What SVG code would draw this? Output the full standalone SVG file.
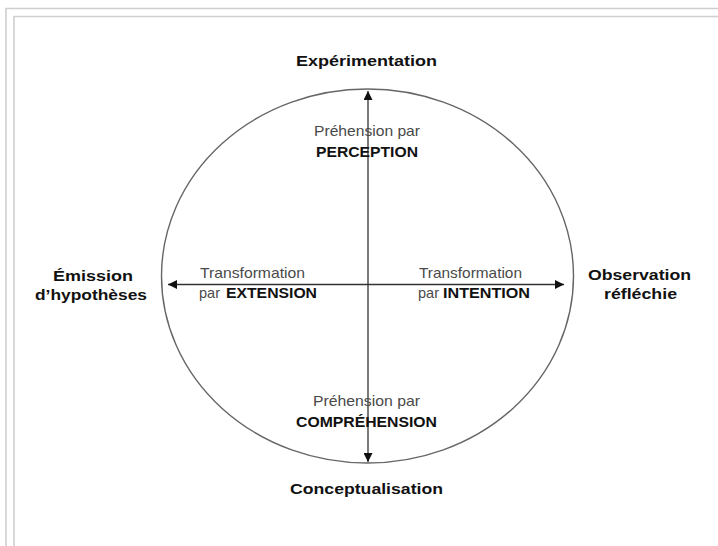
<svg xmlns="http://www.w3.org/2000/svg" width="718" height="546" viewBox="0 0 718 546">
<defs>
<style>
.frame{stroke:#cfcfcf;stroke-width:1.6;fill:none}
.b{font-family:"Liberation Sans",Arial,sans-serif;font-weight:bold;font-size:15px;fill:#111}
.r{font-family:"Liberation Sans",Arial,sans-serif;font-size:14.5px;fill:#4a4a4a}
.ax{stroke:#333;stroke-width:1.3;fill:none}
</style>
<marker id="ah" viewBox="0 0 10 10" refX="10" refY="5" markerWidth="9" markerHeight="9" markerUnits="userSpaceOnUse" orient="auto-start-reverse">
<path d="M0,0 L10,5 L0,10 z" fill="#111"/>
</marker>
</defs>
<rect width="718" height="546" fill="#fff"/>
<g id="frame">
<path class="frame" d="M6,546 V8.5 H718"/>
<path class="frame" d="M14,546 V16.5 H718"/>
</g>
<g id="cycle">
<ellipse cx="367.5" cy="276" rx="206" ry="187" fill="none" stroke="#666" stroke-width="1.4"/>
</g>
<g id="connectors">
<line class="ax" x1="368" y1="91" x2="368" y2="462" marker-start="url(#ah)" marker-end="url(#ah)"/>
<line class="ax" x1="168" y1="284.5" x2="564" y2="284.5" marker-start="url(#ah)" marker-end="url(#ah)"/>
</g>
<g id="experimentation"><text class="b" x="296" y="66" textLength="141" lengthAdjust="spacingAndGlyphs">Expérimentation</text></g>
<g id="perception">
<text class="r" x="314" y="136" textLength="106" lengthAdjust="spacingAndGlyphs">Préhension par</text>
<text class="b" x="316" y="157" textLength="102" lengthAdjust="spacingAndGlyphs">PERCEPTION</text>
</g>
<g id="emission">
<text class="b" x="53" y="281" textLength="80" lengthAdjust="spacingAndGlyphs">Émission</text>
<text class="b" x="35" y="300" textLength="112" lengthAdjust="spacingAndGlyphs">d’hypothèses</text>
</g>
<g id="extension">
<text class="r" x="200" y="278" textLength="105" lengthAdjust="spacingAndGlyphs">Transformation</text>
<text class="r" x="199" y="298" textLength="21" lengthAdjust="spacingAndGlyphs">par</text>
<text class="b" x="226" y="298" textLength="91" lengthAdjust="spacingAndGlyphs" style="font-size:14.5px">EXTENSION</text>
</g>
<g id="intention">
<text class="r" x="419" y="278" textLength="103" lengthAdjust="spacingAndGlyphs">Transformation</text>
<text class="r" x="418" y="298" textLength="21" lengthAdjust="spacingAndGlyphs">par</text>
<text class="b" x="443" y="298" textLength="87" lengthAdjust="spacingAndGlyphs" style="font-size:14.5px">INTENTION</text>
</g>
<g id="observation">
<text class="b" x="588" y="280" textLength="103" lengthAdjust="spacingAndGlyphs">Observation</text>
<text class="b" x="604" y="299" textLength="73" lengthAdjust="spacingAndGlyphs">réfléchie</text>
</g>
<g id="comprehension">
<text class="r" x="313" y="406" textLength="107" lengthAdjust="spacingAndGlyphs">Préhension par</text>
<text class="b" x="296" y="427" textLength="141" lengthAdjust="spacingAndGlyphs">COMPRÉHENSION</text>
</g>
<g id="conceptualisation"><text class="b" x="290" y="494" textLength="153" lengthAdjust="spacingAndGlyphs">Conceptualisation</text></g>
</svg>
